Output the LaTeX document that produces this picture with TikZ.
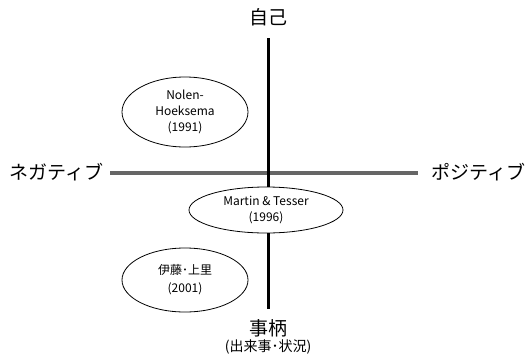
\documentclass[tikz,border=0pt]{standalone}
\usepackage{fontspec}
\setmainfont{Noto Sans CJK JP}
\usetikzlibrary{shapes.geometric}
\tikzset{
  lab/.style={inner sep=0pt, font=\fontsize{19}{22}\selectfont},
  oval/.style={ellipse, draw, line width=0.8pt, inner sep=0pt, align=center, font=\fontsize{12}{16}\selectfont},
  axisv/.style={line width=3pt, black},
  axish/.style={line width=4pt, black!60},
}
\begin{document}
\begin{tikzpicture}[x=1pt,y=-1pt]
\useasboundingbox (0,0) rectangle (532,359);
\node[lab] (self) at (268,17) {自己};
\node[lab, anchor=west] (neg) at (9,172) {ネガティブ};
\node[lab, anchor=east] (pos) at (526,172) {ポジティブ};
\node[lab] (event) at (268,328) {事柄};
\node[inner sep=0pt, font=\fontsize{14}{16}\selectfont] (eventsub) at (268,347) {(出来事･状況)};
\coordinate (vtop) at (268,38);
\coordinate (vbot) at (268,309);
\coordinate (hl) at (110,173);
\coordinate (hr) at (418,173);
\draw[axish] (hl) -- (hr);
\draw[axisv] (vtop) -- (vbot);
\node[oval, fill=white, minimum width=154pt, minimum height=46pt] (mt) at (266,210) {Martin \& Tesser\\(1996)};
\node[oval, minimum width=126pt, minimum height=70pt] (nh) at (185,112) {Nolen-\\Hoeksema\\(1991)};
\node[oval, minimum width=126pt, minimum height=64pt, font=\fontsize{12}{18}\selectfont] (it) at (185,280) {伊藤･上里\\(2001)};
\end{tikzpicture}
\end{document}
